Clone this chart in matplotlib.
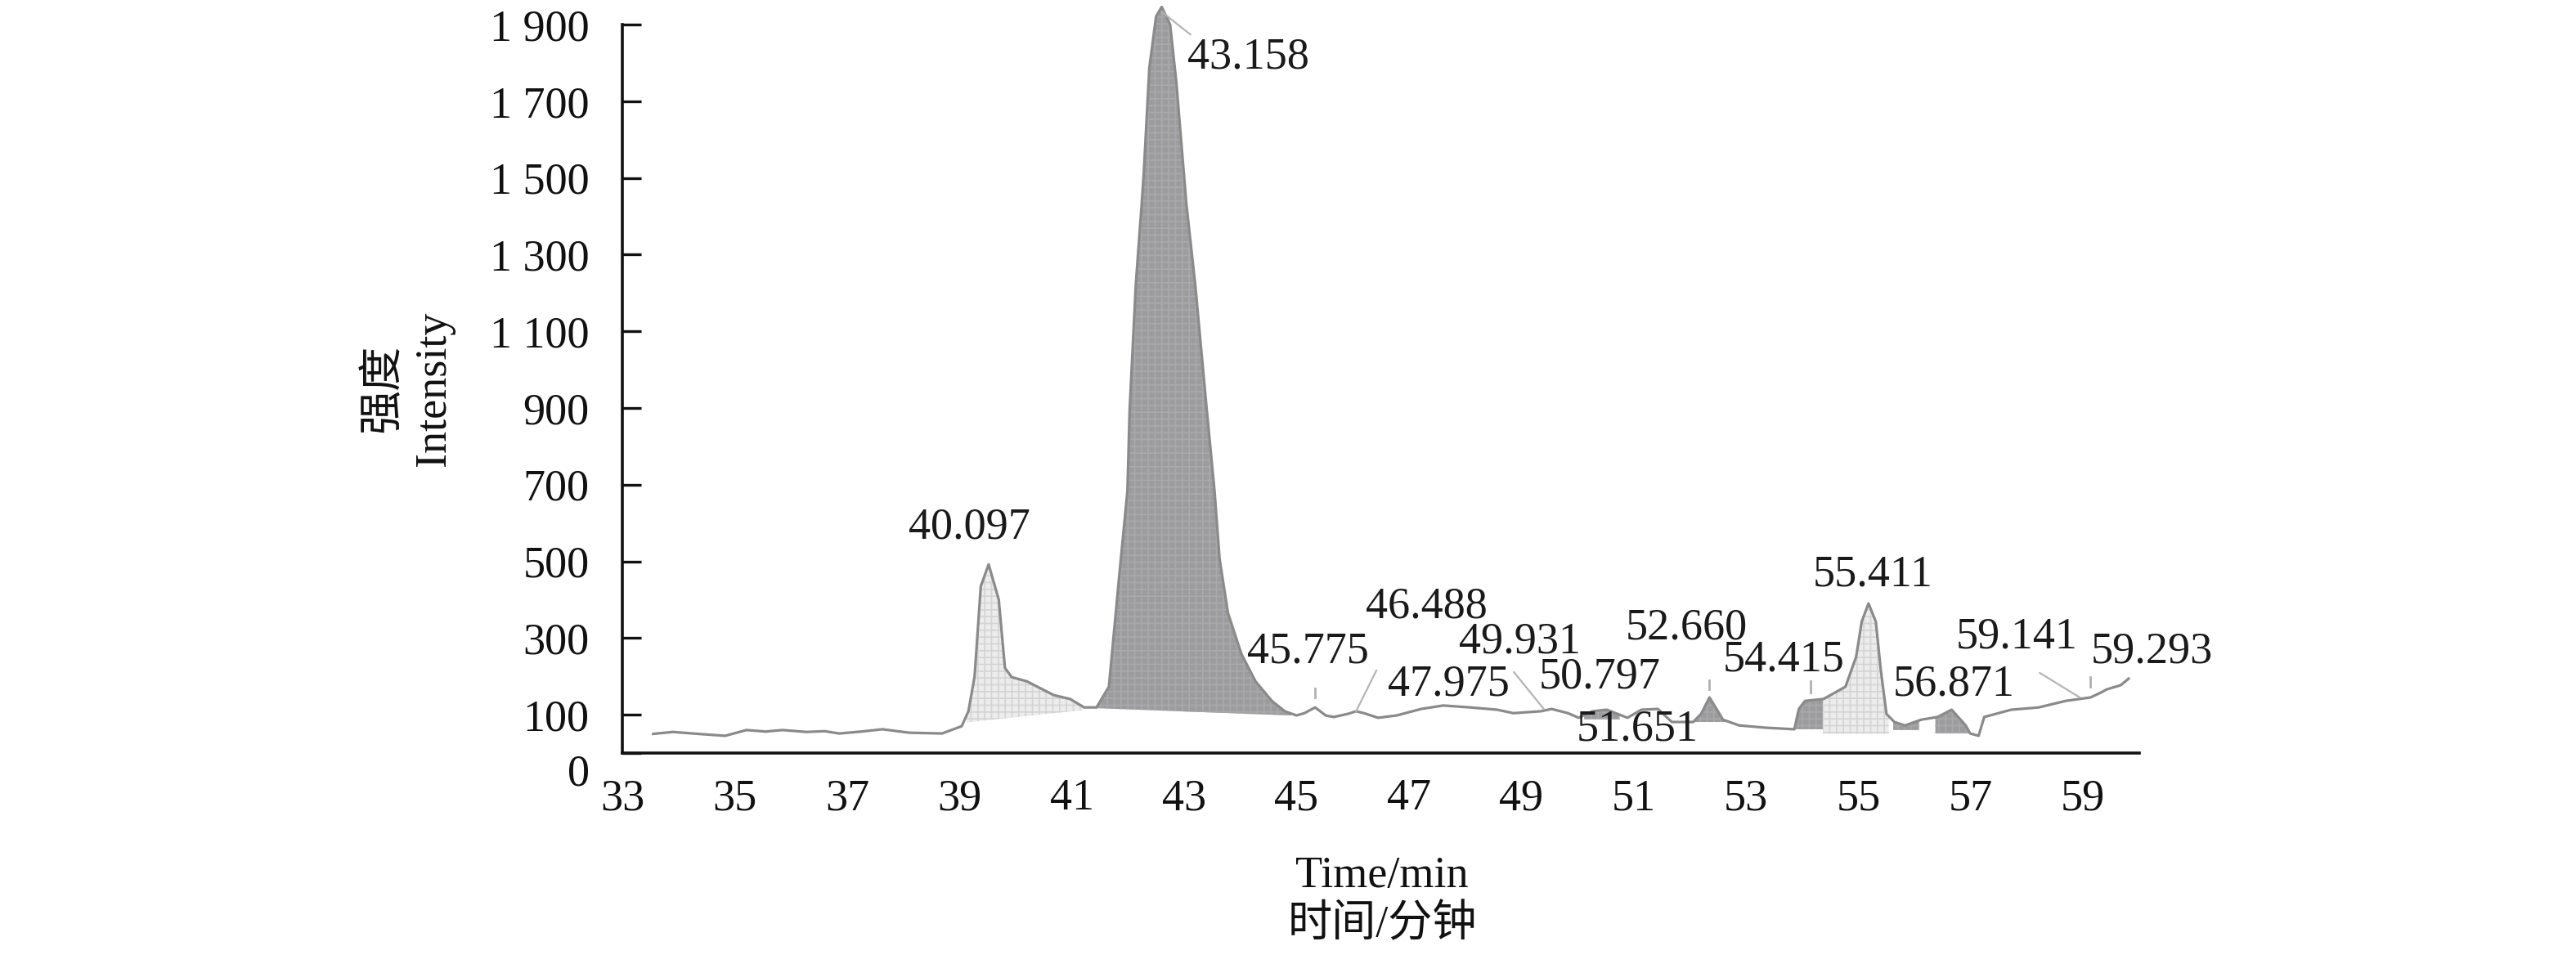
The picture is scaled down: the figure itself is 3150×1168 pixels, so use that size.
import matplotlib
matplotlib.use("Agg")
import matplotlib.pyplot as plt
import matplotlib.transforms as mtransforms
import numpy as np

plt.rcParams['font.family'] = ['Liberation Serif', 'Noto Sans CJK SC']
plt.rcParams['hatch.linewidth'] = 1.2

# ---------------- data ----------------
time_min = [33.55, 33.9, 34.44, 34.83, 35.21, 35.55, 35.85, 36.28, 36.6, 36.86,
            37.25, 37.63, 38.11, 38.69, 39.04, 39.16, 39.27, 39.38, 39.52, 39.70,
            39.81, 39.93, 40.20, 40.68, 40.97, 41.22, 41.44, 41.66, 41.85, 41.99,
            42.03, 42.14, 42.24, 42.28, 42.38, 42.50, 42.60, 42.75, 42.86, 43.04,
            43.20, 43.40, 43.54, 43.63, 43.78, 44.02, 44.27, 44.56, 44.79, 45.00,
            45.14, 45.33, 45.52, 45.66, 45.91, 46.06, 46.20, 46.45, 46.78, 47.22,
            47.61, 48.09, 48.57, 48.86, 49.35, 49.54, 49.83, 50.02, 50.27, 50.52,
            50.89, 51.14, 51.43, 51.68, 52.06, 52.20, 52.35, 52.59, 52.88, 53.36,
            53.86, 53.94, 54.05, 54.38, 54.77, 54.96, 55.06, 55.18, 55.31, 55.40,
            55.50, 55.64, 55.83, 56.12, 56.41, 56.66, 56.91, 56.99, 57.14, 57.24,
            57.72, 58.21, 58.69, 59.13, 59.32, 59.42, 59.67, 59.81]
intensity = [50, 55, 49, 45, 60, 56, 60, 55, 57, 51,
             56, 62, 53, 51, 70, 109, 200, 435, 492, 400,
             222, 198, 187, 151, 141, 119, 119, 173, 471, 684,
             898, 1224, 1424, 1510, 1787, 1921, 1946, 1900, 1750, 1431,
             1217, 898, 684, 507, 365, 258, 187, 136, 109, 98,
             104, 119, 98, 94, 102, 109, 104, 92, 98, 115,
             124, 119, 113, 104, 109, 115, 104, 92, 109, 113,
             92, 113, 115, 81, 81, 102, 145, 87, 72, 66,
             62, 115, 136, 141, 173, 251, 343, 390, 343, 215,
             102, 81, 72, 87, 94, 113, 72, 51, 45, 94,
             113, 119, 136, 145, 158, 166, 177, 194]

# integrated peak areas: (start, end, baseline at start, baseline at end, style)
area_start = [39.13, 41.44, 50.12, 52.06, 53.87, 54.37, 55.62, 56.37]
area_end = [41.20, 44.90, 50.75, 52.66, 54.37, 55.54, 56.08, 56.99]
area_base0 = [80, 117, 88, 81, 62, 50, 60, 51]
area_base1 = [112, 98, 88, 81, 62, 50, 60, 51]
area_style = ['light', 'dark', 'dark', 'dark', 'dark', 'light', 'dark', 'dark']

# peak labels
peak_labels = ['40.097', '43.158', '45.775', '46.488', '47.975', '49.931', '50.797',
               '51.651', '52.660', '54.415', '55.411', '56.871', '59.141', '59.293']
label_t = [39.17, 44.14, 45.21, 47.32, 47.71, 48.97, 50.40,
           51.07, 51.94, 53.67, 55.25, 56.70, 57.82, 60.23]
label_i = [587, 1814, 264, 382, 179, 290, 198,
           62, 326, 243, 465, 179, 303, 264]

# leader lines (t0, i0, t1, i1)
leader_t0 = [42.61, 46.06, 48.87, 58.23]
leader_i0 = [1932, 109, 211, 209]
leader_t1 = [43.11, 46.42, 49.40, 58.94]
leader_i1 = [1874, 215, 115, 145]

# small peak markers (t, i_low, i_high)
marker_t = [45.33, 52.35, 54.15, 59.13]
marker_lo = [145, 166, 158, 173]
marker_hi = [168, 190, 188, 198]

y_ticks = [0, 100, 300, 500, 700, 900, 1100, 1300, 1500, 1700, 1900]
x_ticks = [33, 35, 37, 39, 41, 43, 45, 47, 49, 51, 53, 55, 57, 59]

# ---------------- figure ----------------
W, H = 3150, 1168
fig = plt.figure(figsize=(W / 100, H / 100), dpi=100)
ax = fig.add_axes([761 / W, 1 - 921 / H, (2616 - 761) / W, (921 - 30) / H])
ax.set_xlim(33, 60)
ax.set_ylim(0, 1900)

t = np.array(time_min)
y = np.array(intensity)

for s, e, b0, b1, st in zip(area_start, area_end, area_base0, area_base1, area_style):
    tt = np.concatenate(([s], t[(t > s) & (t < e)], [e]))
    yy = np.interp(tt, t, y)
    bb = np.interp(tt, [s, e], [b0, b1])
    if st == 'dark':
        ax.fill_between(tt, bb, yy, facecolor='#9c9c9f', edgecolor='#a9a9ac',
                        hatch='++', linewidth=0, clip_on=False, zorder=2)
    else:
        ax.fill_between(tt, bb, yy, facecolor='#ececec', edgecolor='#d4d4d4',
                        hatch='++', linewidth=0, clip_on=False, zorder=2)

ax.plot(t, y, color='#8a8a8a', lw=2.3, clip_on=False, zorder=3)

for a, b, c, d in zip(leader_t0, leader_i0, leader_t1, leader_i1):
    ax.plot([a, c], [b, d], color='#b5b5b5', lw=1.6, clip_on=False, zorder=3)
for mt, lo, hi in zip(marker_t, marker_lo, marker_hi):
    ax.plot([mt, mt], [lo, hi], color='#b0b0b0', lw=2.0, clip_on=False, zorder=3)

for txt, lt, li in zip(peak_labels, label_t, label_i):
    ax.text(lt, li, txt, ha='center', va='center', fontsize=39, color='#1a1a1a',
            clip_on=False, zorder=4)

# axes styling
for side in ['top', 'right']:
    ax.spines[side].set_visible(False)
for side in ['left', 'bottom']:
    ax.spines[side].set_linewidth(2.6)
    ax.spines[side].set_color('#111111')

ax.set_yticks(y_ticks)
ax.set_yticklabels([f"{v:,}".replace(',', ' ') for v in y_ticks])
ax.set_xticks(x_ticks)
ax.set_xticklabels([str(v) for v in x_ticks])
ax.tick_params(axis='y', direction='in', length=16.5, width=2.4, pad=29,
               labelsize=39, colors='#111111')
ax.tick_params(axis='x', length=0, pad=22, labelsize=39, colors='#111111')

# nudge "0" label slightly down as in the reference
lab0 = ax.get_yticklabels()[0]
lab0.set_transform(lab0.get_transform() +
                   mtransforms.ScaledTranslation(0, -0.2, fig.dpi_scale_trans))

fig.text(1690 / W, 1 - 1102 / H, 'Time/min\n时间/分钟', ha='center', va='center',
         fontsize=39, color='#111111', linespacing=1.25)
fig.text(500 / W, 1 - 475 / H, '强度\nIntensity', ha='center', va='center',
         rotation=90, fontsize=39, color='#111111', linespacing=1.3)

fig.savefig('out.png', dpi=100, facecolor='white')
